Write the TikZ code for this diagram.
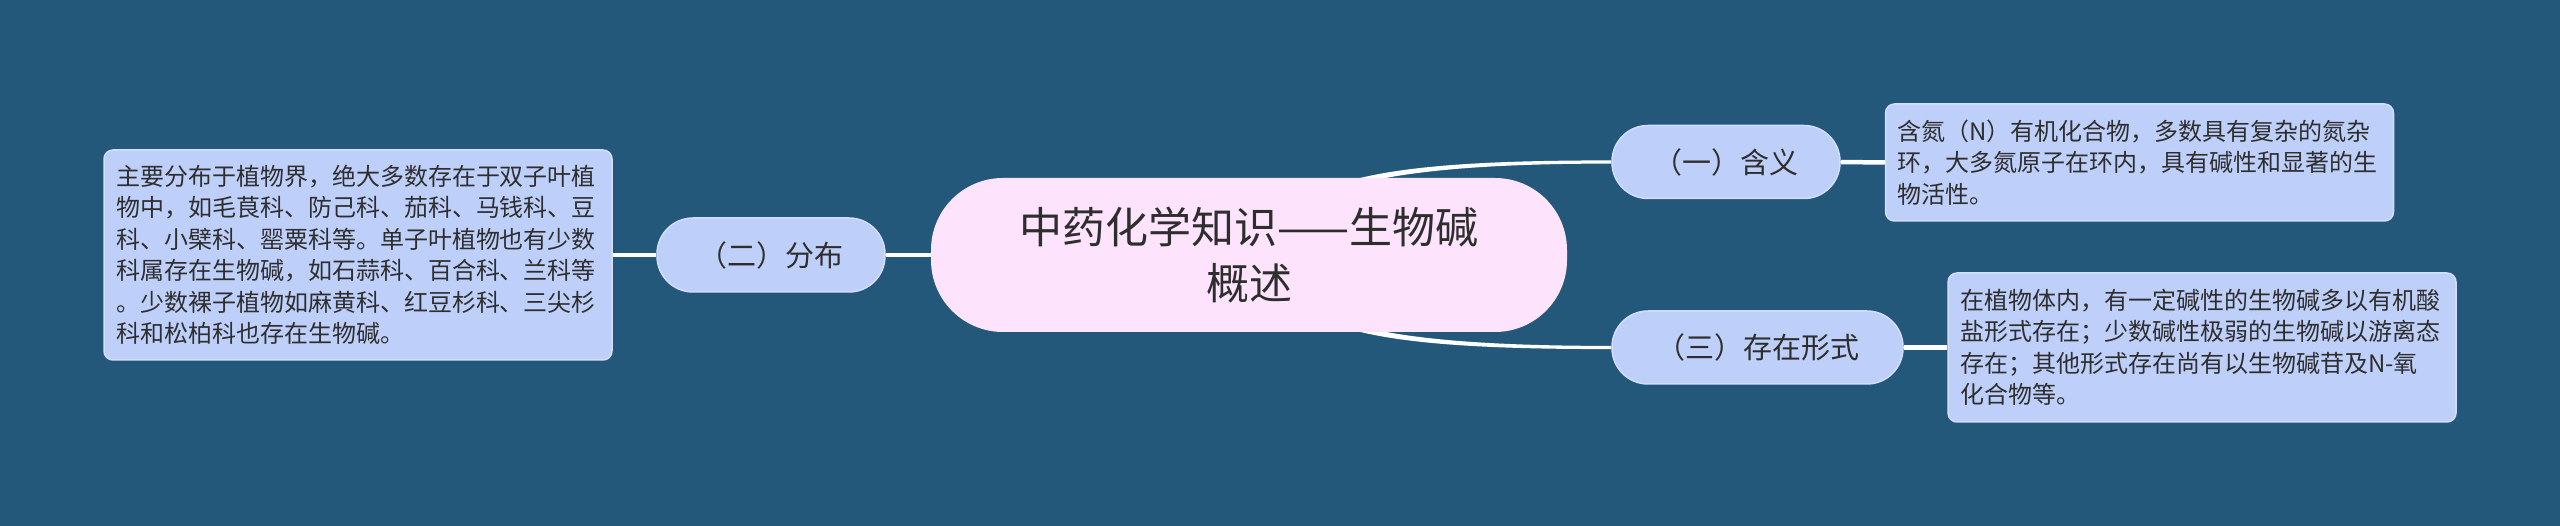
\documentclass[tikz,border=0pt]{standalone}
\usepackage{fontspec}
\newfontfamily\cjk{Noto Sans CJK SC}
\usetikzlibrary{calc}
\definecolor{bgblue}{HTML}{23587A}
\definecolor{pillblue}{HTML}{BED0FA}
\definecolor{pilledge}{HTML}{D2DEFC}
\definecolor{rootpink}{HTML}{FDE3FC}
\definecolor{txt}{HTML}{2E2E2E}
\pgfdeclarelayer{bglayer}
\pgfdeclarelayer{edges}
\pgfsetlayers{bglayer,edges,main}
\tikzset{
  rootnode/.style={fill=rootpink, rounded corners=72pt, minimum width=636pt, minimum height=154pt,
    inner sep=0pt, font=\cjk\fontsize{43}{56}\selectfont, text=txt, align=center},
  pill/.style={fill=pillblue, draw=pilledge, line width=1.5pt, rounded corners=36pt,
    minimum height=73pt, inner sep=0pt, font=\cjk\fontsize{29}{35}\selectfont, text=txt},
  note/.style={fill=pillblue, draw=pilledge, line width=1.5pt, rounded corners=9pt,
    inner xsep=12pt, inner ysep=0pt, font=\cjk\fontsize{24}{31.5}\selectfont, text=txt,
    align=left, text width=484pt},
  conn/.style={draw=white, line width=4.5pt},
  curveconn/.style={fill=white}
}
\begin{document}
\begin{tikzpicture}[x=1pt,y=-1pt]
\useasboundingbox (0,0) rectangle (2560,526);
\begin{pgfonlayer}{bglayer}
\fill[bgblue] (0,0) rectangle (2560,526);
\end{pgfonlayer}

\node[rootnode] (root) at (1249,255) {中药化学知识——生物碱\\概述};

\node[pill, minimum width=228pt] (p1) at (1726,162) {（一）含义};
\node[pill, minimum width=228pt, minimum height=74pt] (p2) at (771,255) {（二）分布};
\node[pill, minimum width=291pt] (p3) at (1757.5,347.5) {（三）存在形式};

\node[note, minimum height=117pt] (t1) at (2139.5,162.5) {含氮（N）有机化合物，多数具有复杂的氮杂\\环，大多氮原子在环内，具有碱性和显著的生\\物活性。};
\node[note, minimum height=210pt] (t2) at (358,255) {主要分布于植物界，绝大多数存在于双子叶植\\物中，如毛茛科、防己科、茄科、马钱科、豆\\科、小檗科、罂粟科等。单子叶植物也有少数\\科属存在生物碱，如石蒜科、百合科、兰科等\\。少数裸子植物如麻黄科、红豆杉科、三尖杉\\科和松柏科也存在生物碱。};
\node[note, minimum height=149pt] (t3) at (2202,347.5) {在植物体内，有一定碱性的生物碱多以有机酸\\盐形式存在；少数碱性极弱的生物碱以游离态\\存在；其他形式存在尚有以生物碱苷及N-氧\\化合物等。};

\begin{pgfonlayer}{edges}
\draw[conn] (p2.east) -- (root.west);
\draw[conn] (t2.east) -- (p2.west);
\draw[conn] (p1.east) -- (t1.west);
\draw[conn] (p3.east) -- (t3.west);
\fill[curveconn] ($(root.north)+(61,19)$) .. controls ($(root.north)+(111,-11)$) and ($(p1.west)+(-142,-1.6)$) .. ($(p1.west)+(0,-1.6)$)
  -- ($(p1.west)+(0,1.6)$) .. controls ($(p1.west)+(-142,1.6)$) and ($(root.north)+(111,-5)$) .. ($(root.north)+(61,25)$) -- cycle;
\fill[curveconn] ($(root.south)+(61,-19)$) .. controls ($(root.south)+(111,11)$) and ($(p3.west)+(-142,1.6)$) .. ($(p3.west)+(0,1.6)$)
  -- ($(p3.west)+(0,-1.6)$) .. controls ($(p3.west)+(-142,-1.6)$) and ($(root.south)+(111,5)$) .. ($(root.south)+(61,-25)$) -- cycle;
\end{pgfonlayer}
\end{tikzpicture}
\end{document}
